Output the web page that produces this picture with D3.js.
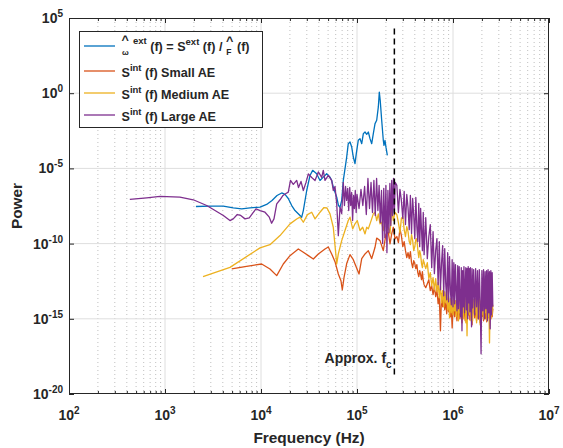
<!DOCTYPE html>
<html><head><meta charset="utf-8">
<script src="https://cdn.jsdelivr.net/npm/d3@7"></script>
<style>
body{margin:0;background:#fff}
svg{display:block}
text{font-family:"Liberation Sans",Arial,Helvetica,sans-serif;font-weight:bold;fill:#262626}
</style>
</head><body>
<svg id="c" width="563" height="448"></svg>
<script>
// ---------------- data ----------------
const xTickValues = [1e2, 1e3, 1e4, 1e5, 1e6, 1e7];
const yTickValues = [1e-20, 1e-15, 1e-10, 1e-5, 1e0, 1e5];
const xLabel = "Frequency (Hz)";
const yLabel = "Power";
const seriesColors = ["#0072BD", "#D95319", "#EDB120", "#7E2F8E"];
const legendLabels = ["ext", "Small AE", "Medium AE", "Large AE"];

// approx. cutoff frequency marker
const fcFreq = 2.45e5;
const fcTop = 2e4, fcBottom = 1.5e-19;
const fcLabelFreq = 4.6e4, fcLabelPower = 1.2e-18;

// blue: external spectrum ratio
const extFreq = [2100,2940,4050,5140,6300,7680,9770,11450,13020,14690,16440,17780,19240,20890,22600,24890,26550,27600,29940,32390,34510,38000,41170,44550,48320,52340,54490,56620,61480,64180,66530,69300,72000,78100,81100,84560,88100,91500,95300,98400,103100,107500,112000,116400,121200,126200,131200,136600,142300,147900,154100,160400,166800,170700,174500,176600,180800,187900,191000,195700,200500,207000];
const extPower = [2.93e-8,3.07e-8,3.07e-8,2.4e-8,2.06e-8,2.4e-8,2.7e-8,4.0e-8,7.4e-8,1.58e-7,2.33e-7,1.85e-7,1e-7,3.4e-8,1.58e-8,8.6e-9,5.7e-9,1.58e-8,3.4e-7,3.4e-6,7.4e-6,4.4e-6,1.58e-6,2.63e-6,4.4e-6,2.63e-6,1.58e-6,5.7e-7,1.22e-7,3.4e-8,2.63e-8,7.4e-8,1.58e-6,5.7e-5,4.4e-4,5.7e-4,2.63e-4,5.7e-5,2.06e-5,1e-4,7.4e-4,9.5e-4,4.4e-4,2.06e-3,2.63e-3,1.85e-3,2.63e-3,9.5e-4,4.4e-4,2.06e-3,9.5e-3,1.58e-2,0.122,1.17,0.34,0.122,1.58e-2,7.4e-4,3.4e-4,7.4e-4,2.5e-4,7.4e-5];

// low / mid frequency parts of the internal spectra
const smallFreq = [4955,6810,10160,12400,14580,17070,20050,24470,27600,31120,35080,39550,46420,50240,54490,59000,63880,68070,70300,73280,78100,84560,91500,97700,105000,112000,121200,131200,142300,154100,160400,173700,187900,200500,211700,220800,229800,239000,248700];
const smallPower = [2.06e-12,2.95e-12,4.4e-12,2.06e-12,7.4e-13,4.4e-12,1.58e-11,4.4e-11,2.63e-11,1.58e-11,9.5e-12,2.06e-11,4.4e-11,6e-11,2.06e-11,6.3e-12,9.5e-13,3.4e-13,8.5e-14,5.7e-13,4.7e-12,1.85e-11,8.5e-12,2.95e-12,9.5e-13,1e-11,2.06e-11,3.4e-11,1e-11,5.7e-11,2.33e-10,1.58e-10,3.4e-11,4.4e-10,5.7e-10,9.5e-11,4.4e-10,1.22e-9,2.06e-10];

const mediumFreq = [2490,4750,9770,12400,15780,20050,23540,25480,27600,30480,33750,36540,41170,45290,48700,52340,56620,59700,61480,63880,66530,69300,74990,81100,84560,90150,95300,100700,107500,114600,121200,126200,131200,142300,147900,154100,160400,166800,173700,180800,187900,195700,203700,211700,220800,229800,239000,248700];
const mediumPower = [6.3e-13,2.63e-12,5.2e-11,8.5e-11,3.4e-10,2.05e-9,4.3e-9,5.7e-9,2.63e-9,8.5e-9,1.22e-8,4.4e-9,1.22e-8,2.5e-8,2.33e-8,9.5e-9,1.22e-9,3.4e-11,4.4e-12,2.06e-11,5.7e-11,1.58e-10,7.4e-10,3.4e-9,5.7e-9,9.5e-10,2.06e-9,3.4e-9,7.4e-10,1.22e-9,4.4e-10,1.22e-9,9.5e-10,4.4e-9,9.5e-9,1.22e-8,3.4e-9,9.5e-9,2.06e-9,2.63e-9,7.4e-10,3.4e-9,4.4e-9,1.22e-9,4.4e-10,2.15e-8,3.4e-9,1.17e-8];

const largeFreq = [430,645,887,1430,1970,2720,3320,4050,4750,5140,5660,6150,6810,7550,8200,8870,9770,11000,12200,12900,13650,14580,15780,16950,18200,19240,20280,21700,23540,24590,26100,27600,29440,31120,33750,36540,39550,42890,44550,46420,50240,54490,56620,59000,61480,63880,66530,69300,
  72000,74000,76000,78000,80000,82000,84000,86000,88000,90000,92000,94000,96000,98000,100000,105000,110000,115000,120000,125000,130000,135000,140000,145000,150000,155000,160000,165000,170000,175000,180000,185000,190000,195000,200000,205000,210000,215000,220000,225000,230000,235000,240000,245000,250000];
const largePower = [8.6e-8,1.11e-7,1.36e-7,1.22e-7,8.2e-8,3.4e-8,1.58e-8,7.4e-9,3.4e-9,4.4e-9,8.6e-9,7.4e-9,4.4e-9,5.2e-9,1.05e-8,2.06e-8,1.58e-8,1.22e-8,5.7e-9,2.25e-9,4.4e-9,4.4e-8,8.2e-8,1.58e-7,2.15e-7,2.63e-7,1.58e-6,8.6e-7,1.58e-6,5.4e-7,1.36e-6,3.4e-7,1.17e-6,4.3e-6,2.5e-6,1.58e-6,5.8e-6,2.5e-6,7.4e-6,1.58e-6,3.4e-6,1.58e-6,3.4e-7,6.3e-7,4.4e-8,3.4e-10,2.63e-8,1e-8,
  1.17e-6,3.4e-8,6.3e-7,7.4e-8,4.7e-7,1.58e-8,5.4e-7,3.4e-8,2.5e-7,3.4e-9,1.58e-7,2.15e-8,3.4e-7,1.17e-8,1.85e-7,2.15e-8,4e-7,3.4e-8,6.3e-7,8.6e-9,2.15e-6,2.15e-8,1.17e-6,1.17e-8,1.58e-6,7.4e-9,2.15e-6,1.58e-8,7.4e-7,2.5e-9,3.4e-7,1e-10,4.7e-7,2.5e-10,7.4e-7,2.5e-11,3.4e-7,5.4e-10,1e-6,1.58e-9,1.58e-6,7.4e-9,2.15e-6,1.17e-8,1.17e-6];

// shared high-frequency grid (dense, noisy part)
const hiFreq = [
  2.6e5,2.7e5,2.8e5,2.9e5,3.0e5,3.1e5,3.2e5,3.3e5,3.4e5,3.5e5,3.6e5,3.7e5,3.8e5,3.9e5,4.0e5,4.1e5,4.2e5,4.3e5,4.4e5,4.5e5,4.6e5,4.7e5,4.8e5,4.9e5,5.0e5,
  5.2e5,5.4e5,5.6e5,5.8e5,6.0e5,6.2e5,6.4e5,6.6e5,6.8e5,7.0e5,7.2e5,7.4e5,7.6e5,7.8e5,8.0e5,8.2e5,8.4e5,8.6e5,8.8e5,9.0e5,9.2e5,9.4e5,9.6e5,9.8e5,1.0e6,
  1.02e6,1.04e6,1.06e6,1.08e6,1.10e6,1.12e6,1.14e6,1.16e6,1.18e6,1.20e6,1.22e6,1.24e6,1.26e6,1.28e6,1.30e6,1.32e6,1.34e6,1.36e6,1.38e6,1.40e6,1.42e6,1.44e6,1.46e6,1.48e6,1.50e6,1.52e6,1.54e6,1.56e6,1.58e6,1.60e6,
  1.64e6,1.68e6,1.72e6,1.76e6,1.80e6,1.84e6,1.88e6,1.92e6,1.96e6,2.00e6,2.04e6,2.08e6,2.12e6,2.16e6,2.20e6,2.24e6,2.28e6,2.32e6,2.36e6,2.40e6,2.44e6,2.48e6,2.52e6,2.56e6,2.60e6];
const smallHiPower = [
  2.95e-10,1.17e-10,1e-9,3.4e-10,6.3e-11,1.36e-10,3.4e-11,1.17e-11,2.5e-11,1e-11,2.95e-11,5.4e-12,2.5e-12,7.4e-12,4.7e-12,2.15e-12,4e-12,1.17e-12,6.3e-13,1.58e-12,8.5e-13,4e-13,1.36e-12,3.4e-13,1.85e-13,
  1.17e-13,2.15e-13,4e-13,7.4e-14,1.58e-13,4e-14,1.36e-13,2.95e-14,8.5e-14,1e-14,2.95e-14,1.58e-16,4.7e-14,6.3e-15,2.95e-14,4e-15,1.58e-14,2.15e-15,1.36e-14,2.95e-15,8.5e-15,1.36e-15,6.3e-15,2.5e-16,5.4e-15,
  4.7e-15,1.36e-15,7.4e-15,2.5e-15,7.4e-16,6.3e-15,1.85e-15,8.5e-15,1e-15,4e-15,6.3e-15,5.4e-16,5.4e-15,1.36e-15,7.4e-15,2.15e-15,7.4e-16,6.3e-15,2.95e-15,8.5e-15,1e-15,4.7e-15,1.85e-15,7.4e-15,8.5e-16,5.4e-15,2.5e-15,7.4e-15,4e-16,5.4e-15,
  4.7e-15,1.17e-15,6.3e-15,7.4e-16,5.4e-15,1e-15,6.3e-15,5.4e-16,5.4e-15,1.36e-15,6.3e-15,7.4e-16,4.7e-15,1e-15,6.3e-15,6.3e-16,5.4e-15,1.17e-15,6.3e-15,7.4e-16,5.4e-15,1e-15,6.3e-15,1.36e-15,4.7e-15];
const mediumHiPower = [
  8.5e-9,2.5e-9,5.4e-10,4.7e-9,6.3e-9,8.5e-10,2.95e-10,1.36e-9,6.3e-10,1.36e-10,8.5e-11,4e-10,1.58e-10,3.4e-11,6.3e-11,1.85e-10,2.15e-10,4e-11,1.17e-11,3.4e-11,1.85e-11,4.7e-12,2.5e-12,8.5e-12,5.4e-12,
  2.15e-12,5.4e-12,4.7e-13,1.17e-12,1.58e-13,5.4e-13,8.5e-14,4.7e-13,6.3e-14,2.5e-13,2.5e-14,1.58e-13,1.17e-14,7.4e-14,6.3e-15,6.3e-14,1.17e-14,8.5e-14,4e-15,2.95e-14,1.17e-15,2.15e-14,2.5e-15,1.58e-14,1.85e-15,
  2.15e-14,3.4e-15,1.58e-14,1.36e-15,1e-14,2.15e-14,7.4e-16,1.36e-14,2.5e-15,2.95e-14,6.3e-15,1.85e-15,1.58e-14,1e-15,1.85e-14,4e-15,2.15e-14,5.4e-16,1.36e-14,7.4e-17,1.58e-14,2.95e-15,2.5e-14,1.85e-15,1.17e-14,1.85e-14,7.4e-16,1.58e-14,1.36e-15,7.4e-16,
  1.85e-14,2.5e-15,2.15e-14,5.4e-16,1.58e-14,1.36e-15,2.15e-14,4e-16,1.58e-14,1.85e-15,1.85e-14,1e-15,1.58e-14,2.5e-15,2.15e-14,7.4e-16,1.58e-14,1.36e-15,1.85e-14,2.5e-17,1.58e-14,1e-15,2.15e-14,1.85e-15,8.5e-15];
const largeHiPower = [
  7.4e-7,1.17e-8,4e-7,7.4e-8,4.7e-9,2.95e-7,1.85e-9,1.85e-7,2.5e-8,8.5e-10,1.58e-7,4.7e-10,1e-7,7.4e-9,2.15e-10,1.17e-7,1.36e-9,1.36e-10,4.7e-8,6.3e-11,2.15e-8,7.4e-10,3.4e-11,1.17e-8,1.85e-11,
  5.4e-9,1e-11,2.95e-10,1.85e-9,2.5e-12,6.3e-10,1e-12,3.4e-11,2.15e-10,1.85e-13,1.36e-10,8.5e-14,5.4e-12,7.4e-11,3.4e-14,4.7e-11,2.15e-13,1.85e-14,2.5e-11,1.36e-14,1.36e-11,7.4e-14,8.5e-15,8.5e-12,6.3e-15,
  5.4e-12,1e-14,4e-12,7.4e-14,3.4e-15,3.4e-12,4.7e-15,2.95e-12,1.58e-14,1.36e-15,2.5e-12,1.58e-16,1.58e-12,6.3e-15,2.95e-12,2.5e-15,1.58e-13,2.5e-12,4e-15,2.15e-12,1e-15,2.95e-12,1.17e-14,2.15e-12,2.95e-15,2.5e-12,2.95e-14,2.95e-16,2.15e-12,5.4e-15,
  1.85e-12,1.85e-15,2.15e-12,6.3e-15,1.58e-12,1e-15,1.85e-12,1.58e-14,4.7e-18,1.58e-12,3.4e-15,1.85e-12,1e-15,1.36e-12,4.7e-15,1.58e-12,7.4e-16,1.85e-12,2.5e-15,1.36e-12,2.15e-16,1.58e-12,1.85e-15,1.17e-12,6.3e-15];

// ---------------- build ----------------
const zip = (f, p) => f.map((v, i) => [v, p[i]]);
const series = [
  zip(extFreq, extPower),
  zip(smallFreq, smallPower).concat(zip(hiFreq, smallHiPower)),
  zip(mediumFreq, mediumPower).concat(zip(hiFreq, mediumHiPower)),
  zip(largeFreq, largePower).concat(zip(hiFreq, largeHiPower))
];

const P = {left: 69, right: 549, top: 18, bottom: 394};
const x = d3.scaleLog().domain([1e2, 1e7]).range([P.left, P.right]);
const y = d3.scaleLog().domain([1e-20, 1e5]).range([P.bottom, P.top]);
const svg = d3.select("#c");
const axisColor = "#262626";

const minorX = [];
xTickValues.slice(0, -1).forEach(d => { for (let k = 2; k <= 9; k++) minorX.push(d * k); });
const majorXInner = xTickValues.slice(1, -1);
const majorYInner = yTickValues.slice(1, -1);

// grid
const grid = svg.append("g");
grid.selectAll(".mnx").data(minorX).join("line")
  .attr("x1", d => x(d)).attr("x2", d => x(d)).attr("y1", P.top).attr("y2", P.bottom)
  .attr("stroke", "#b8b8b8").attr("stroke-width", 0.9).attr("stroke-dasharray", "1,3");
grid.selectAll(".mjx").data(majorXInner).join("line")
  .attr("x1", d => x(d)).attr("x2", d => x(d)).attr("y1", P.top).attr("y2", P.bottom)
  .attr("stroke", "#dedede").attr("stroke-width", 1);
grid.selectAll(".mjy").data(majorYInner).join("line")
  .attr("y1", d => y(d)).attr("y2", d => y(d)).attr("x1", P.left).attr("x2", P.right)
  .attr("stroke", "#dedede").attr("stroke-width", 1);

// series
svg.append("clipPath").attr("id", "clip").append("rect")
  .attr("x", P.left).attr("y", P.top).attr("width", P.right - P.left).attr("height", P.bottom - P.top);
const line = d3.line().x(d => x(d[0])).y(d => y(d[1]));
svg.append("g").attr("clip-path", "url(#clip)").selectAll("path").data(series).join("path")
  .attr("d", line).attr("fill", "none")
  .attr("stroke", (d, i) => seriesColors[i]).attr("stroke-width", 1.3)
  .attr("stroke-linejoin", "round");

// axes (ticks inward)
function styleAxis(g) { g.select(".domain").remove(); g.selectAll("line").attr("stroke", axisColor); g.selectAll("text").remove(); }
svg.append("g").attr("transform", `translate(0,${P.bottom})`).call(d3.axisBottom(x).tickValues(xTickValues).tickSize(-5)).call(styleAxis);
svg.append("g").attr("transform", `translate(0,${P.bottom})`).call(d3.axisBottom(x).tickValues(minorX).tickSize(-3)).call(styleAxis);
svg.append("g").attr("transform", `translate(0,${P.top})`).call(d3.axisTop(x).tickValues(xTickValues).tickSize(-5)).call(styleAxis);
svg.append("g").attr("transform", `translate(0,${P.top})`).call(d3.axisTop(x).tickValues(minorX).tickSize(-3)).call(styleAxis);
svg.append("g").attr("transform", `translate(${P.left},0)`).call(d3.axisLeft(y).tickValues(yTickValues).tickSize(-5)).call(styleAxis);
svg.append("g").attr("transform", `translate(${P.right},0)`).call(d3.axisRight(y).tickValues(yTickValues).tickSize(-5)).call(styleAxis);

// box
svg.append("rect").attr("x", P.left + 0.5).attr("y", P.top + 0.5)
  .attr("width", P.right - P.left - 1).attr("height", P.bottom - P.top - 1)
  .attr("fill", "none").attr("stroke", axisColor).attr("stroke-width", 1);

// tick labels
const expo = v => String(Math.round(Math.log10(v)));
function powLabel(t, v) {
  t.append("tspan").text("10");
  t.append("tspan").attr("dy", -6).attr("font-size", 10).text(expo(v));
}
svg.append("g").selectAll("text").data(xTickValues).join("text")
  .attr("x", d => x(d)).attr("y", 420).attr("text-anchor", "middle").attr("font-size", 14)
  .each(function (d) { powLabel(d3.select(this), d); });
svg.append("g").selectAll("text").data(yTickValues).join("text")
  .attr("x", P.left - 6).attr("y", d => y(d) + 5).attr("text-anchor", "end").attr("font-size", 14)
  .each(function (d) { powLabel(d3.select(this), d); });

// axis labels
svg.append("text").attr("x", (P.left + P.right) / 2).attr("y", 443).attr("text-anchor", "middle")
  .attr("font-size", 15.4).text(xLabel);
svg.append("text").attr("transform", `translate(22,${(P.top + P.bottom) / 2}) rotate(-90)`)
  .attr("text-anchor", "middle").attr("font-size", 15.4).text(yLabel);

// cutoff marker
svg.append("line").attr("x1", x(fcFreq)).attr("x2", x(fcFreq)).attr("y1", y(fcTop)).attr("y2", y(fcBottom))
  .attr("stroke", "#000").attr("stroke-width", 1.5).attr("stroke-dasharray", "6,4");
const fcT = svg.append("text").attr("x", x(fcLabelFreq)).attr("y", y(fcLabelPower)).attr("font-size", 14).attr("fill", "#000");
fcT.append("tspan").text("Approx. f");
fcT.append("tspan").attr("dy", 5).attr("font-size", 10).text("c");

// legend
const L = {x: 79, y: 31, w: 183, h: 96};
const lg = svg.append("g");
lg.append("rect").attr("x", L.x + 0.5).attr("y", L.y + 0.5).attr("width", L.w).attr("height", L.h)
  .attr("fill", "#fff").attr("stroke", axisColor).attr("stroke-width", 1);
const rowY = [46, 71, 93, 115];
lg.selectAll("line").data(seriesColors).join("line")
  .attr("x1", 84).attr("x2", 115).attr("y1", (d, i) => rowY[i]).attr("y2", (d, i) => rowY[i])
  .attr("stroke", d => d).attr("stroke-width", 1.3);
const t0 = lg.append("text").attr("x", 121.5).attr("y", 51).attr("font-size", 12.6).attr("fill", "#000");
t0.append("tspan").attr("x", 121.5).attr("y", 44).text("^");
t0.append("tspan").attr("x", 122).attr("y", 55).attr("font-size", 8).text("\u03C9");
t0.append("tspan").attr("x", 133).attr("y", 44).attr("font-size", 9.5).text(legendLabels[0]);
t0.append("tspan").attr("y", 51).text(" (f) = S");
t0.append("tspan").attr("y", 45).attr("font-size", 9.5).text(legendLabels[0]);
t0.append("tspan").attr("y", 51).text(" (f) / ");
t0.append("tspan").attr("y", 45).text("^");
t0.append("tspan").attr("dx", -7).attr("y", 55).attr("font-size", 8.5).text("F");
t0.append("tspan").attr("dx", 2).attr("y", 51).text(" (f)");
for (let i = 1; i < 4; i++) {
  const t = lg.append("text").attr("x", 121.5).attr("y", rowY[i] + 6).attr("font-size", 12.6).attr("fill", "#000");
  t.append("tspan").text("S");
  t.append("tspan").attr("dy", -6).attr("font-size", 9.5).text("int");
  t.append("tspan").attr("dy", 6).text(" (f) " + legendLabels[i]);
}
</script>
</body></html>
